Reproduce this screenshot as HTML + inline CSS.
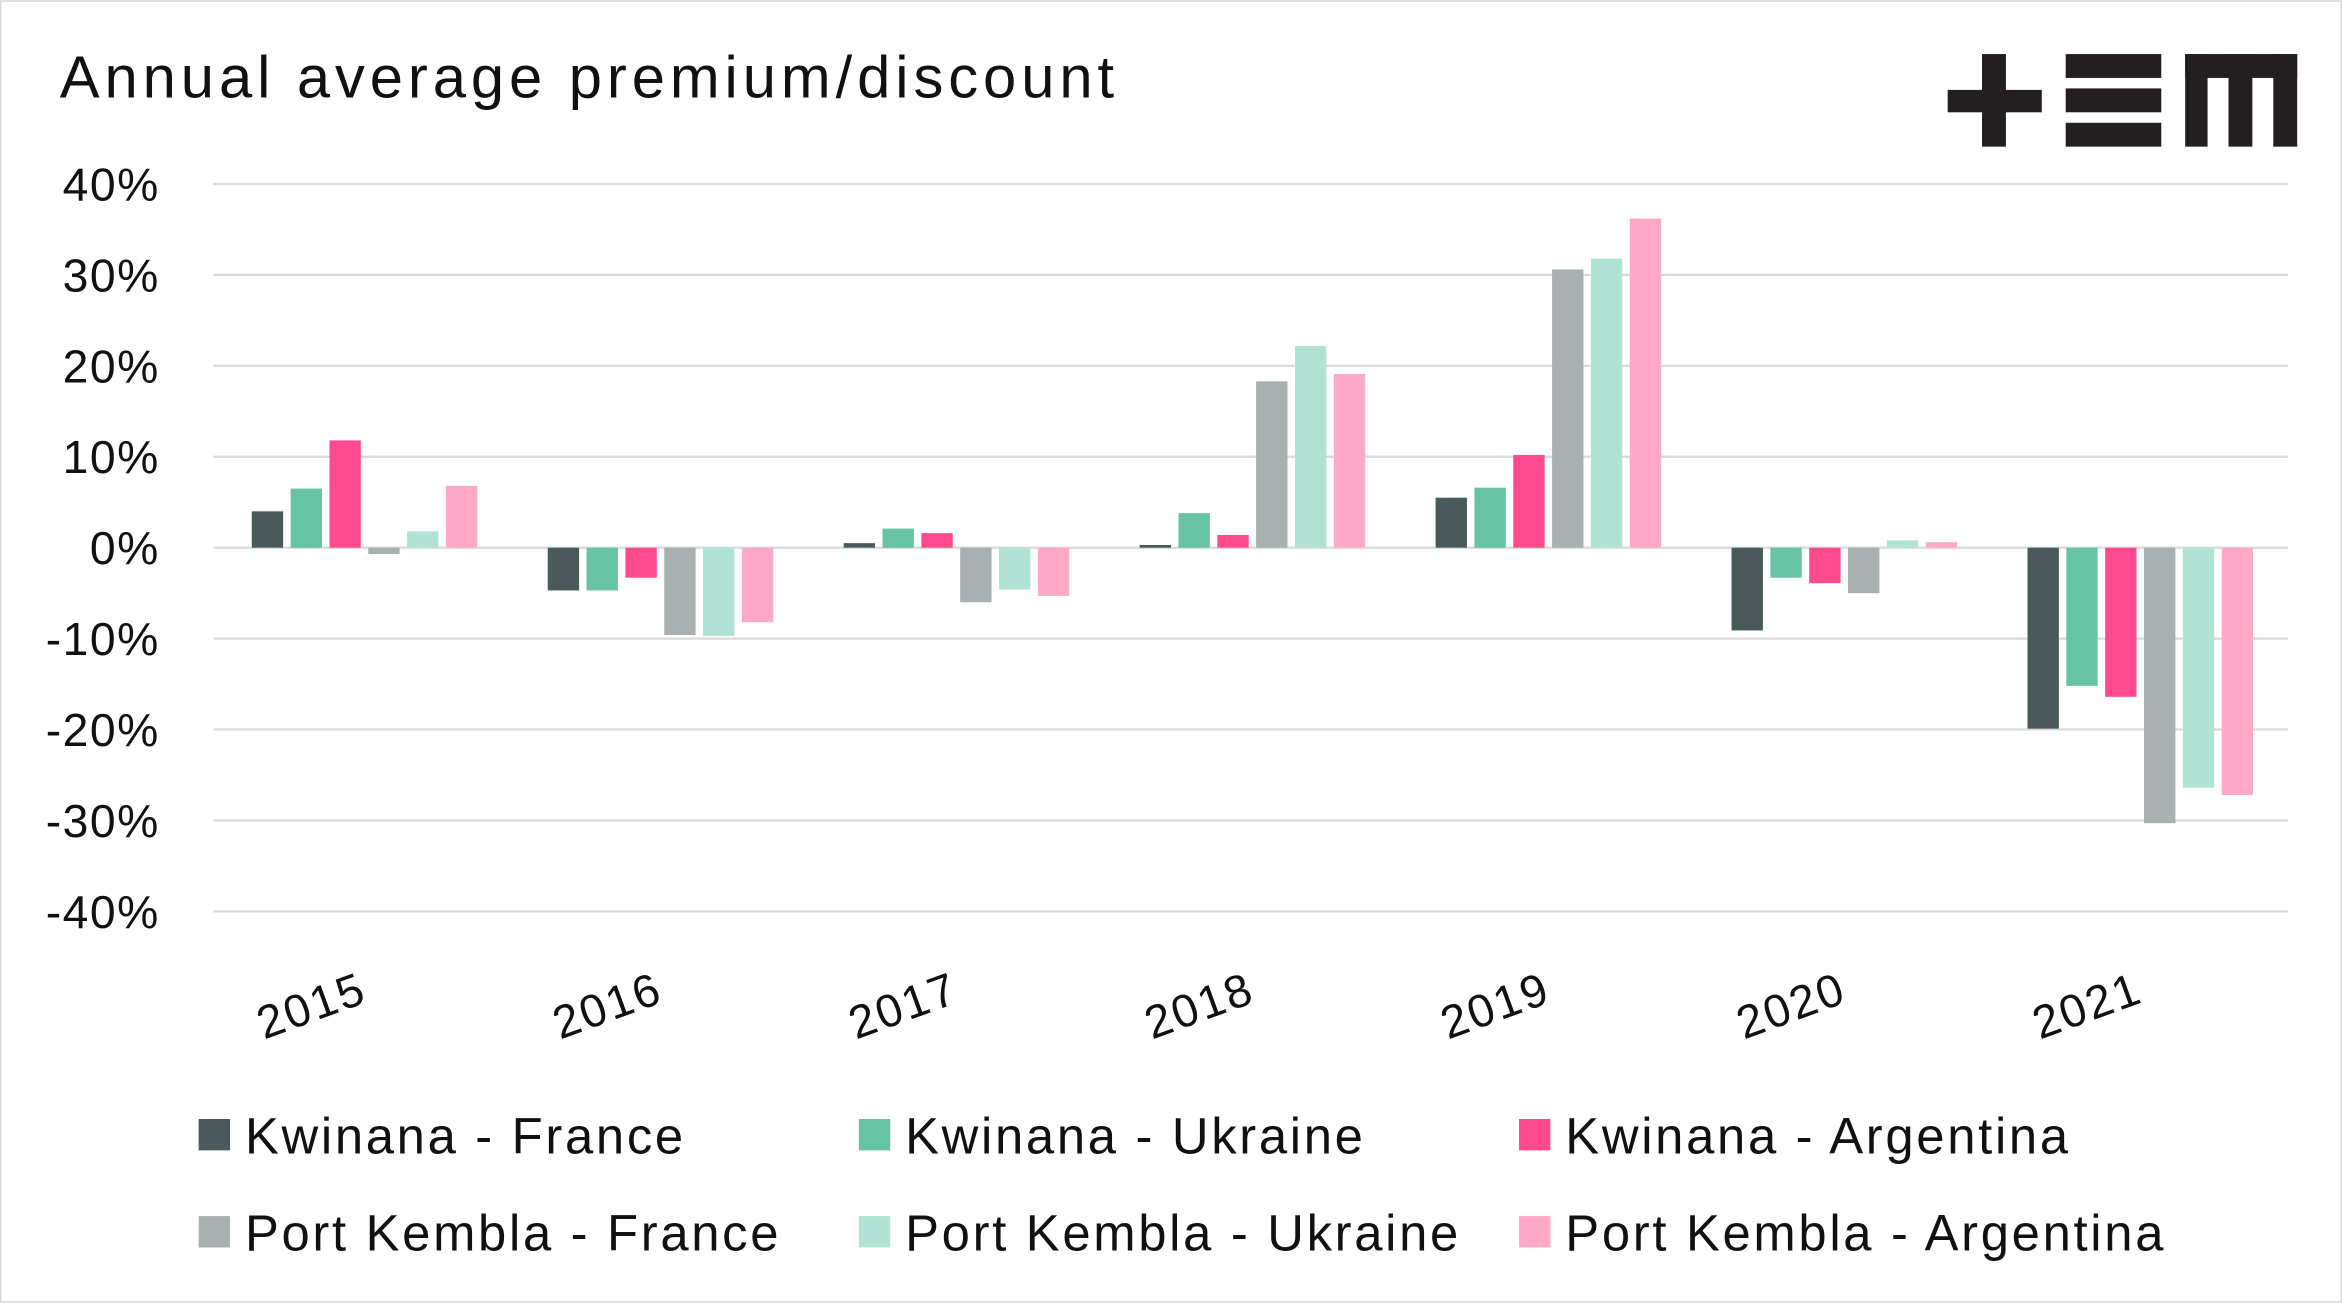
<!DOCTYPE html>
<html><head><meta charset="utf-8"><style>
html,body{margin:0;padding:0;background:#fff}
svg{display:block;font-family:"Liberation Sans",sans-serif}
</style></head><body>
<svg id="c" width="2342" height="1303" viewBox="0 0 1568 872">
<rect x="0.5" y="0.5" width="1567" height="871" fill="#fff" stroke="#d8d8d8"/>
<text x="40" y="65" font-size="40" letter-spacing="3.3" fill="#111">Annual average premium/discount</text>
<g fill="#231f20">
<rect x="1327" y="36" width="16" height="62"/><rect x="1304" y="60" width="63" height="15"/>
<rect x="1383" y="36" width="64" height="16"/><rect x="1383" y="59" width="64" height="16"/><rect x="1383" y="82" width="64" height="16"/>
<rect x="1463" y="36" width="75" height="16"/><rect x="1463" y="36" width="15" height="62"/><rect x="1492" y="36" width="16" height="62"/><rect x="1522" y="36" width="16" height="62"/>
</g>
<g id="grid"></g><g id="bars"></g><g id="labels"></g><g id="legend"></g>
</svg>
<script>
const categories=["2015","2016","2017","2018","2019","2020","2021"];
const seriesNames=["Kwinana - France","Kwinana - Ukraine","Kwinana - Argentina","Port Kembla - France","Port Kembla - Ukraine","Port Kembla - Argentina"];
const kwFrance=[4,-4.7,0.5,0.3,5.5,-9.1,-19.9];
const kwUkraine=[6.5,-4.7,2.1,3.8,6.6,-3.3,-15.2];
const kwArgentina=[11.8,-3.3,1.6,1.4,10.2,-3.9,-16.4];
const pkFrance=[-0.7,-9.6,-6,18.3,30.6,-5,-30.3];
const pkUkraine=[1.8,-9.7,-4.6,22.2,31.8,0.8,-26.4];
const pkArgentina=[6.8,-8.2,-5.3,19.1,36.2,0.6,-27.2];
const yTicks=[40,30,20,10,0,-10,-20,-30,-40];
const series=[kwFrance,kwUkraine,kwArgentina,pkFrance,pkUkraine,pkArgentina];
const colors=["#4a5a5a","#66c4a4","#ff4a8d","#a8b0b0","#b0e3d3","#ffa8c8"];
const NS="http://www.w3.org/2000/svg";
const x0=145,x1=1532,yTop=123,yBot=610;
const y=v=>yTop+(40-v)/80*(yBot-yTop);
const gw=(x1-x0)/categories.length;
function mk(t,a,p){const e=document.createElementNS(NS,t);for(const k in a)e.setAttribute(k,a[k]);p.appendChild(e);return e;}
const grid=document.getElementById('grid'),bars=document.getElementById('bars'),labels=document.getElementById('labels'),legend=document.getElementById('legend');
yTicks.forEach(t=>{
 const l=mk('line',{x1:x0-2,x2:x1,y1:y(t),y2:y(t),stroke:'#d9d9d9','stroke-width':1.5},grid);
 
 
 const tx=mk('text',{x:107,y:y(t)+11,'text-anchor':'end','font-size':31,'letter-spacing':1,fill:'#111'},labels);
 tx.textContent=t+'%';
 
 
});
const bw=21,step=26;
categories.forEach((c,i)=>{
 const cx=x0+gw*(i+0.5);
 series.forEach((s,j)=>{
  const v=s[i],bx=cx-step*2.5-bw/2+step*j;
  const r=mk('rect',{x:bx,y:Math.min(y(v),y(0)),width:bw,height:Math.abs(y(v)-y(0)),fill:colors[j]},bars);
  
  
 });
 const t=mk('text',{x:cx-32,y:683,'text-anchor':'middle','font-size':31,'letter-spacing':1.5,fill:'#111',transform:`rotate(-20 ${cx-32} 683)`},labels);
 t.textContent=c;
 
 
});
seriesNames.forEach((n,j)=>{
 const lx=133+442*(j%3),ly=j<3?760:825;
 const g=mk('g',{},legend);
 
 
 mk('rect',{x:lx,y:ly-11,width:21,height:21,fill:colors[j]},g);
 const t=mk('text',{x:lx+31,y:ly+12,'font-size':34,'letter-spacing':1.8,fill:'#111'},g);
 t.textContent=n;
});
</script>
</body></html>
